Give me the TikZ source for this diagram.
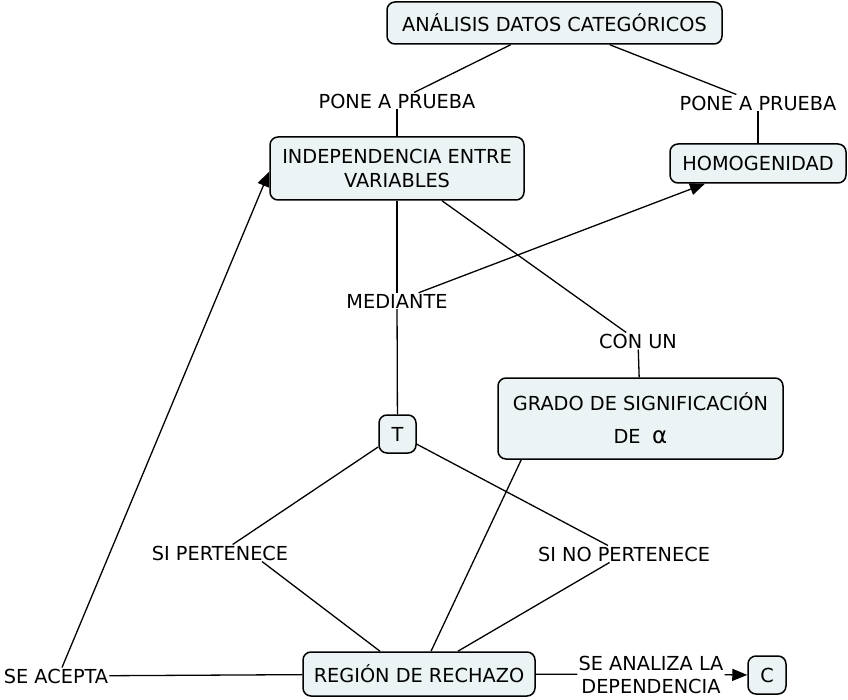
\documentclass[tikz,border=0pt]{standalone}
\usepackage{fontspec}
\setmainfont{DejaVu Sans}
\usetikzlibrary{arrows.meta}
\definecolor{boxfill}{HTML}{EBF3F5}
\begin{document}
\begin{tikzpicture}[x=1pt,y=-1pt,
  concept/.style={draw=black, line width=1.5pt, fill=boxfill, rounded corners=8pt, inner sep=0pt, align=center, font=\fontsize{19.3}{24}\selectfont},
  lbl/.style={inner sep=1pt, font=\fontsize{19.3}{23}\selectfont, align=center},
  link/.style={line width=1.3pt},
  arr/.style={link, -{Triangle[length=15pt,width=12pt]}}]
\path[use as bounding box] (0,0) rectangle (848,700);

% concepts
\node[concept, minimum width=335pt, minimum height=42pt] (top) at (554.5,23) {ANÁLISIS DATOS CATEGÓRICOS};
\node[concept, minimum width=254pt, minimum height=63pt] (indep) at (397,168.5) {INDEPENDENCIA ENTRE\\VARIABLES};
\node[concept, minimum width=176pt, minimum height=39pt] (homog) at (758,163.5) {HOMOGENIDAD};
\node[concept, minimum width=37pt, minimum height=38pt] (t) at (397.5,434) {T};
\node[concept, minimum width=285pt, minimum height=81pt] (grado) at (640.5,418.5) {GRADO DE SIGNIFICACIÓN\\[9pt]DE\hspace{0.6em}{\fontsize{23}{24}\selectfont α}};
\node[concept, minimum width=232pt, minimum height=44pt] (region) at (419,674) {REGIÓN DE RECHAZO};
\node[concept, minimum width=38pt, minimum height=38pt] (c) at (767,675) {C};

% linking phrases
\node[lbl] (pone1) at (397,101) {PONE A PRUEBA};
\node[lbl] (pone2) at (758,103) {PONE A PRUEBA};
\node[lbl] (mediante) at (397,301) {MEDIANTE};
\node[lbl] (conun) at (638,341) {CON UN};
\node[lbl] (sip) at (220,553) {SI PERTENECE};
\node[lbl] (sinop) at (624,554) {SI NO PERTENECE};
\node[lbl] (seacepta) at (56,676) {SE ACEPTA};
\node[lbl] (seanaliza) at (651,674.5) {SE ANALIZA LA\\DEPENDENCIA};

% connectors
\draw[link] (top) -- (pone1);
\draw[link] (pone1) -- (indep);
\draw[link] (top) -- (pone2);
\draw[link] (pone2) -- (homog);
\draw[link] (indep) -- (mediante);
\draw[link] (mediante) -- (t);
\draw[arr] (mediante) -- (homog);
\draw[link] (indep) -- (conun);
\draw[link] (conun) -- (grado);
\draw[link] (t) -- (sip);
\draw[link] ([xshift=42pt]sip.south) -- ([xshift=-39pt]region.north);
\draw[link] (t) -- (sinop);
\draw[link] (sinop) -- (region);
\draw[link] ([xshift=24pt]grado.south west) -- ([xshift=12pt]region.north);
\draw[link] (region) -- (seacepta);
\draw[arr] ([xshift=6pt]seacepta.north) -- ([yshift=-3pt]indep.west);
\draw[link] (region) -- (seanaliza);
\draw[arr] (seanaliza) -- (c);
\end{tikzpicture}
\end{document}
